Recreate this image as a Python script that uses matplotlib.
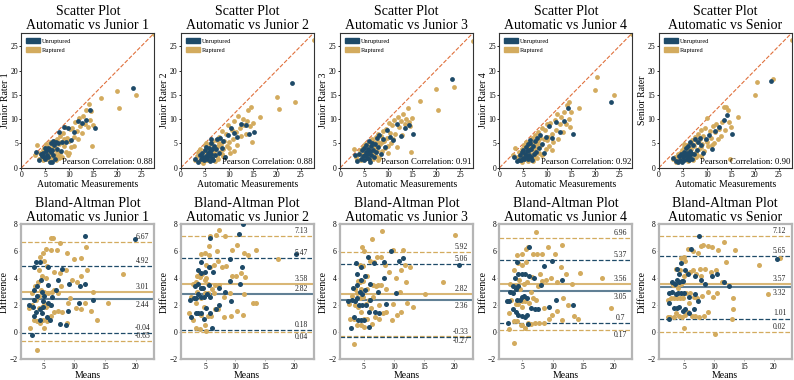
import numpy as np
import matplotlib.pyplot as plt
from matplotlib.patches import Patch

plt.rcParams['font.family'] = ['Liberation Serif', 'DejaVu Serif']

# names / labels
raters = ['Junior 1', 'Junior 2', 'Junior 3', 'Junior 4', 'Senior']
rater_ylabels = ['Junior Rater 1', 'Junior Rater 2', 'Junior Rater 3', 'Junior Rater 4', 'Senior Rater']
pearson = [0.88, 0.88, 0.91, 0.92, 0.90]

# automatic measurements (shared by all raters)
auto_unruptured = [3.0, 3.6, 4.0, 4.3, 4.5, 4.7, 4.9, 5.0, 5.2, 5.3, 5.5, 5.6, 5.8, 5.9, 6.0, 6.1, 6.2, 6.4, 6.5, 6.6,
                   6.8, 7.0, 7.2, 7.4, 7.6, 7.9, 8.2, 8.5, 8.9, 9.3, 9.8, 10.4, 11.0, 11.8, 12.6, 13.5, 14.3, 15.3, 23.3, 6.3]
auto_ruptured = [2.9, 3.3, 3.6, 3.9, 4.1, 4.4, 4.6, 4.8, 5.0, 5.1, 5.3, 5.4, 5.6, 5.7, 5.9, 6.0, 6.2, 6.3, 6.5, 6.6,
                 6.8, 6.9, 7.1, 7.2, 7.4, 7.5, 7.7, 7.8, 8.0, 8.1, 8.3, 8.5, 8.7, 8.9, 9.1, 9.3, 9.5, 9.7, 9.9, 10.1,
                 10.3, 10.6, 10.9, 11.2, 11.5, 11.8, 12.0, 12.3, 12.6, 12.9, 13.2, 13.5, 13.8, 14.1, 14.4, 14.6, 14.8, 15.0, 16.6, 20.0,
                 20.4, 23.8, 27.7, 5.2, 6.1, 7.0, 7.9, 8.8, 10.0, 11.0]

# rater measurements, unruptured
junior1_unruptured = [3.2, 1.6, 2.8, 2.4, 3.0, 2.3, 4.0, 1.9, 3.5, 2.6, 4.1, 2.2, 3.9, 1.1, 3.7, 5.0, 3.2, 3.7, 5.6, 2.7,
                      4.6, 1.8, 5.2, 3.9, 5.0, 7.3, 3.4, 5.4, 8.4, 5.4, 8.2, 5.7, 7.4, 9.6, 9.2, 9.9, 11.9, 8.2, 16.4, 1.1]
junior2_unruptured = [1.9, 1.2, 2.6, 1.8, 3.1, 2.2, 1.5, 3.6, 2.4, 4.3, 1.9, 3.0, 2.5, 4.1, 1.4, 3.5, 2.9, 5.0, 2.1, 3.8,
                      1.6, 4.4, 2.7, 3.9, 5.9, 3.1, 6.2, 4.0, 5.6, 2.3, 6.8, 8.1, 7.2, 6.4, 9.0, 8.7, 7.0, 7.3, 17.5, 6.0]
junior3_unruptured = [2.7, 1.3, 2.9, 1.9, 3.6, 2.4, 1.6, 4.1, 2.7, 3.3, 4.6, 2.1, 3.8, 2.9, 5.6, 1.8, 3.4, 4.4, 2.6, 5.1,
                      3.7, 2.2, 4.8, 3.2, 6.1, 4.3, 6.8, 2.9, 5.9, 4.2, 7.7, 6.4, 5.8, 8.9, 6.6, 8.2, 8.8, 6.9, 18.3, 1.2]
junior4_unruptured = [2.3, 1.3, 1.7, 2.6, 1.5, 3.2, 2.0, 3.7, 1.8, 2.9, 4.3, 2.4, 3.4, 1.9, 4.9, 2.7, 3.6, 5.1, 2.2, 3.9,
                      1.6, 4.5, 2.9, 5.6, 3.3, 6.2, 4.0, 6.8, 4.9, 3.0, 6.3, 8.5, 6.1, 9.4, 7.3, 9.6, 12.3, 7.0, 13.5, 5.7]
senior_unruptured = [2.0, 1.4, 1.1, 2.5, 1.5, 2.9, 1.2, 2.2, 3.3, 1.7, 2.6, 4.0, 1.9, 3.0, 2.3, 4.4, 1.5, 3.5, 2.7, 5.2,
                     3.0, 1.9, 4.6, 2.8, 5.9, 3.6, 5.4, 6.2, 4.7, 3.1, 5.9, 6.8, 3.9, 7.6, 8.3, 9.8, 10.9, 7.0, 17.9, 2.0]

# rater measurements, ruptured
junior1_ruptured = [2.6, 4.6, 1.8, 3.0, 2.1, 3.6, 1.7, 4.1, 2.6, 3.3, 1.9, 4.5, 2.9, 3.8, 2.2, 5.2, 3.1, 4.4, 1.9, 3.6,
                    5.6, 2.7, 4.2, 1.6, 3.4, 6.0, 2.4, 4.8, 3.1, 6.5, 5.2, 2.3, 7.2, 4.4, 8.4, 3.2, 6.1, 2.7, 5.5, 7.9,
                    4.2, 8.1, 6.3, 9.4, 7.6, 5.9, 10.3, 8.6, 7.2, 10.7, 9.0, 11.9, 8.3, 13.2, 9.8, 11.6, 4.5, 8.7, 14.4, 15.7,
                    12.2, 15.0, 27.5, 4.9, 3.9, 5.0, 2.0, 5.9, 3.0, 4.4]
junior2_ruptured = [1.5, 2.4, 3.3, 1.3, 3.9, 2.2, 1.0, 3.5, 2.0, 4.6, 1.6, 2.9, 3.7, 1.5, 2.6, 4.8, 1.8, 3.4, 2.2, 5.4,
                    2.9, 4.0, 1.3, 3.6, 5.7, 2.5, 4.5, 1.9, 6.3, 3.3, 4.8, 2.8, 7.6, 3.9, 5.6, 2.2, 6.9, 4.4, 8.7, 5.3,
                    3.1, 7.7, 6.0, 9.6, 7.3, 4.7, 10.7, 8.1, 6.5, 10.1, 8.8, 7.0, 9.7, 11.9, 8.5, 12.4, 5.2, 9.3, 10.5, 14.6,
                    12.0, 13.5, 26.3, 5.1, 2.0, 3.0, 5.0, 2.4, 4.0, 3.4]
junior3_ruptured = [3.8, 2.3, 1.5, 2.9, 3.6, 1.7, 2.6, 4.3, 3.1, 1.9, 3.8, 2.5, 4.6, 3.2, 2.1, 5.0, 3.6, 2.6, 4.4, 6.0,
                    3.0, 1.9, 5.3, 4.0, 2.5, 6.4, 3.5, 5.2, 7.0, 2.1, 4.8, 6.5, 3.4, 7.5, 5.6, 4.1, 8.0, 6.2, 3.0, 9.2,
                    7.1, 5.0, 8.8, 9.9, 7.0, 4.3, 10.5, 8.3, 9.6, 6.8, 11.0, 8.9, 10.1, 12.2, 9.4, 8.5, 3.2, 10.2, 13.8, 16.3,
                    11.8, 16.6, 26.0, 4.8, 2.9, 4.6, 1.6, 5.4, 4.4, 6.0]
junior4_ruptured = [2.7, 4.1, 2.2, 1.6, 3.3, 2.0, 3.8, 1.2, 2.9, 4.6, 1.9, 3.3, 5.3, 2.4, 4.0, 1.4, 3.0, 5.6, 2.6, 4.3,
                    6.2, 1.8, 3.5, 5.0, 2.4, 6.8, 4.0, 2.0, 5.5, 7.4, 3.1, 6.1, 4.6, 8.2, 2.8, 5.9, 7.7, 3.9, 8.9, 6.3,
                    4.5, 9.3, 7.0, 5.4, 9.9, 7.8, 11.1, 6.0, 8.9, 10.4, 7.4, 11.5, 9.0, 12.9, 10.1, 13.6, 8.3, 11.4, 12.2, 16.0,
                    18.6, 15.0, 27.5, 4.7, 3.8, 1.3, 4.9, 2.6, 5.7, 3.6]
senior_ruptured = [1.8, 2.2, 1.2, 2.8, 1.6, 3.0, 2.1, 3.6, 1.5, 2.6, 4.2, 1.9, 3.1, 2.4, 4.6, 1.3, 3.4, 2.7, 5.0, 2.0,
                   3.9, 5.7, 2.9, 1.7, 4.5, 6.3, 3.3, 2.2, 5.4, 7.0, 3.8, 6.0, 2.5, 7.7, 4.8, 6.6, 3.5, 8.2, 5.7, 10.2,
                   4.4, 7.6, 6.2, 8.6, 5.0, 7.3, 9.1, 5.9, 8.0, 6.6, 9.5, 12.5, 7.7, 12.4, 11.9, 9.4, 1.8, 8.3, 10.5, 15.0,
                   17.6, 18.3, 26.3, 4.9, 3.6, 4.8, 2.6, 4.2, 5.3, 4.6]

rater_unruptured = [junior1_unruptured, junior2_unruptured, junior3_unruptured, junior4_unruptured, senior_unruptured]
rater_ruptured = [junior1_ruptured, junior2_ruptured, junior3_ruptured, junior4_ruptured, senior_ruptured]

# Bland-Altman statistics: (mean difference, upper LoA, lower LoA)
ba_unruptured = [(2.44, 4.92, -0.04), (2.82, 5.47, 0.18), (2.36, 5.06, -0.33), (3.05, 5.37, 0.7), (3.32, 5.65, 1.01)]
ba_ruptured = [(3.01, 6.67, -0.65), (3.58, 7.13, 0.04), (2.82, 5.92, -0.27), (3.56, 6.96, 0.17), (3.57, 7.12, 0.02)]

ba_xlims = [(1.4, 23.0), (0.8, 23.3), (1.1, 23.1), (1.3, 23.0), (0.8, 23.0)]

c_unrup = '#1e4a68'
c_rup = '#d3ab5e'
c_diag = '#e0703c'

fig = plt.figure(figsize=(7.94, 3.8), dpi=100)
gs = fig.add_gridspec(2, 5, left=0.027, right=0.997, top=0.913, bottom=0.055, wspace=0.2, hspace=0.42)

for i in range(5):
    au = np.array(auto_unruptured)
    ar = np.array(auto_ruptured)
    ru = np.array(rater_unruptured[i])
    rr = np.array(rater_ruptured[i])

    # ---- scatter plot ----
    ax = fig.add_subplot(gs[0, i])
    lim = max(au.max(), ar.max(), ru.max(), rr.max())
    ax.scatter(ar, rr, s=12, color=c_rup, linewidths=0, zorder=2)
    ax.scatter(au, ru, s=12, color=c_unrup, linewidths=0, zorder=3)
    ax.plot([0, lim], [0, lim], linestyle='--', color=c_diag, lw=0.8, zorder=1)
    ax.set_xlim(0, lim)
    ax.set_ylim(0, lim)
    ax.set_xticks([0, 5, 10, 15, 20, 25])
    ax.set_yticks([0, 5, 10, 15, 20, 25])
    ax.tick_params(labelsize=5.5, length=1.5, width=0.6, pad=1)
    for sp in ax.spines.values():
        sp.set_color('#333333')
        sp.set_linewidth(0.8)
    ax.set_title('Scatter Plot\nAutomatic vs ' + raters[i], fontsize=10, pad=3, linespacing=1.1)
    ax.set_xlabel('Automatic Measurements', fontsize=7, labelpad=0.5)
    ax.set_ylabel(rater_ylabels[i], fontsize=7, labelpad=0.5)
    ax.text(0.99, 0.01, 'Pearson Correlation: %.2f' % pearson[i], transform=ax.transAxes,
            ha='right', va='bottom', fontsize=6.3)
    handles = [Patch(color=c_unrup, label='Unruptured'), Patch(color=c_rup, label='Ruptured')]
    ax.legend(handles=handles, loc='upper left', frameon=False, fontsize=4.5,
              handlelength=2.2, handleheight=0.9, borderaxespad=0.4, labelspacing=0.5, handletextpad=0.3)

    # ---- Bland-Altman plot ----
    bx = fig.add_subplot(gs[1, i])
    bx.scatter((ar + rr) / 2, ar - rr, s=13, color=c_rup, linewidths=0, zorder=2)
    bx.scatter((au + ru) / 2, au - ru, s=13, color=c_unrup, linewidths=0, zorder=3)

    mu, hu, lu = ba_unruptured[i]
    mr, hr, lr = ba_ruptured[i]
    bx.axhline(mr, color=c_rup, lw=1.5, alpha=0.85, zorder=1)
    bx.axhline(mu, color=c_unrup, lw=1.5, alpha=0.7, zorder=1)
    for v in (hr, lr):
        bx.axhline(v, color=c_rup, lw=0.9, ls='--', zorder=1)
    for v in (hu, lu):
        bx.axhline(v, color=c_unrup, lw=0.9, ls='--', zorder=1)

    # value labels
    labels = [(hr, True), (hu, True), (mr, True), (mu, (mr - mu) >= 0.6),
              (lu, True), (lr, abs(lr - lu) >= 0.58)]
    trans = bx.get_yaxis_transform()
    for v, above in labels:
        if above:
            bx.text(0.91, v + 0.08, f'{v:g}', transform=trans, ha='center', va='bottom', fontsize=5.5, color='#222222')
        else:
            bx.text(0.91, v - 0.12, f'{v:g}', transform=trans, ha='center', va='top', fontsize=5.5, color='#222222')

    bx.set_xlim(*ba_xlims[i])
    bx.set_ylim(-2, 8)
    bx.set_xticks([5, 10, 15, 20])
    bx.set_yticks([-2, 0, 2, 4, 6, 8])
    bx.tick_params(labelsize=5.5, length=1.5, width=0.6, pad=1, color='#aaaaaa')
    for sp in bx.spines.values():
        sp.set_color('#b5b5b5')
        sp.set_linewidth(1.6)
    bx.set_title('Bland-Altman Plot\nAutomatic vs ' + raters[i], fontsize=10, pad=2, linespacing=1.1)
    bx.set_xlabel('Means', fontsize=7, labelpad=0.5)
    bx.set_ylabel('Difference', fontsize=7, labelpad=0.5)

plt.savefig('out.png', dpi=100)
